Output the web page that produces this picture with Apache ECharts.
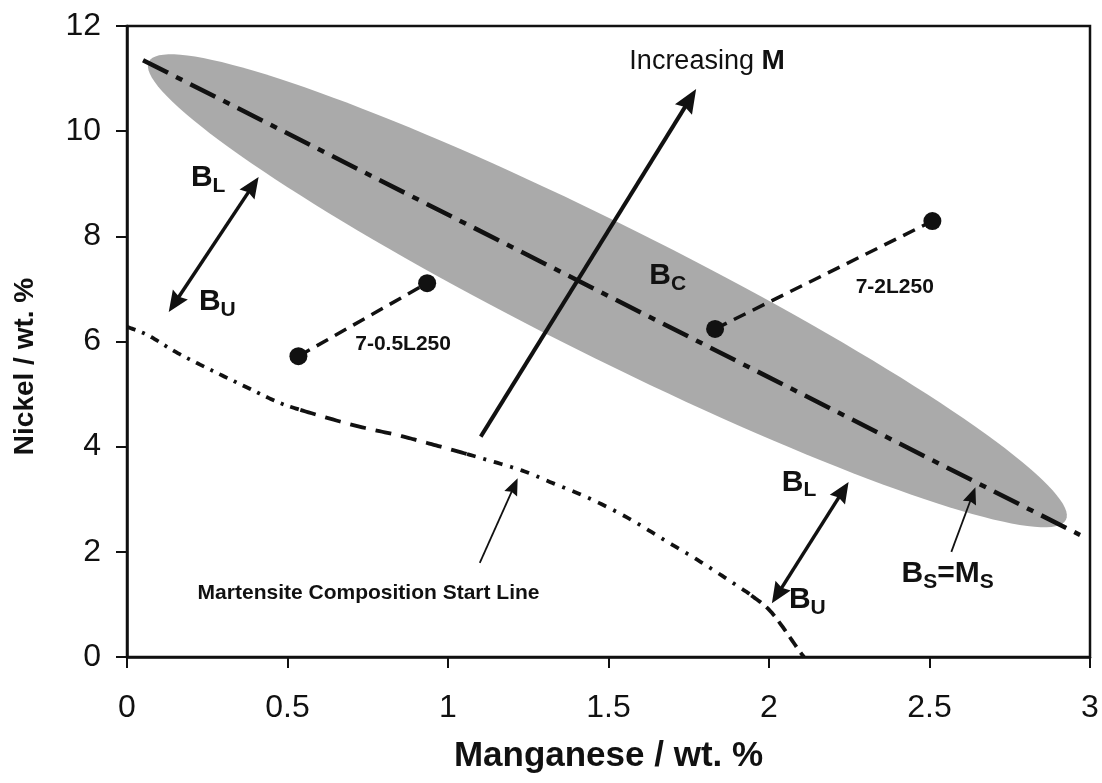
<!DOCTYPE html>
<html>
<head>
<meta charset="utf-8">
<script src="https://cdn.jsdelivr.net/npm/echarts@6/dist/echarts.min.js"></script>
<style>
html,body{margin:0;padding:0;background:#fff;}
#chart{width:1102px;height:783px;}
</style>
</head>
<body>
<div id="chart"></div>
<script>
// ---------- data ----------
const xTickLabels = ['0', '0.5', '1', '1.5', '2', '2.5', '3'];
const yTickLabels = ['0', '2', '4', '6', '8', '10', '12'];

// B_S = M_S line (dash-dot)
const bsMsLine = [[0.050, 11.35], [2.969, 2.32]];
// shaded band (ellipse) tips
const ellipseTips = [[0.068, 11.32], [2.925, 2.61]];

// Martensite composition start line
const msLine = [
  [0.0, 6.28], [0.065, 6.12], [0.158, 5.78], [0.261, 5.46], [0.376, 5.12], [0.469, 4.85], [0.540, 4.70],
  [0.705, 4.41], [0.842, 4.22], [0.935, 4.07], [1.059, 3.86],
  [1.224, 3.56], [1.317, 3.33], [1.432, 3.04], [1.556, 2.66], [1.689, 2.17], [1.792, 1.79], [1.907, 1.33], [1.945, 1.17],
  [2.009, 0.84], [2.093, 0.13], [2.109, 0.0]
];
// indices where the line pattern changes
const msBreaks = [0, 6, 10, 18, 21];

// alloys
const alloy05 = [[0.534, 5.72], [0.935, 7.11]];
const alloy2 = [[1.832, 6.24], [2.509, 8.29]];

// arrows [x1, y1, x2, y2]
const thickArrows = [[1.102, 4.19, 1.773, 10.80]];
const doubleArrows = [[0.130, 6.56, 0.410, 9.13], [2.009, 1.02, 2.248, 3.33]];
const thinArrows = [[2.568, 2.00, 2.643, 3.23], [1.099, 1.79, 1.217, 3.40]];

// annotations: anchor (data coords) + text parts
const annoX = [1.565, 0.199, 0.224, 1.627, 2.040, 2.062, 2.413, 0.711, 2.270, 0.220];
const annoY = [11.32, 9.11, 6.75, 7.25, 3.32, 1.08, 1.58, 5.95, 7.03, 1.22];
const annoParts = [
  [['Increasing ', 'n'], ['M', 'nb']],
  [['B', 'B'], ['L', 's']],
  [['B', 'B'], ['U', 's']],
  [['B', 'B'], ['C', 's']],
  [['B', 'B'], ['L', 's']],
  [['B', 'B'], ['U', 's']],
  [['B', 'B'], ['S', 's'], ['=M', 'B'], ['S', 's']],
  [['7-0.5L250', 'l']],
  [['7-2L250', 'l']],
  [['Martensite Composition Start Line', 'm']]
];

// ---------- styles ----------
const FF = '"Liberation Sans", Arial, Helvetica, sans-serif';
const INK = '#111111';
const partStyle = {
  n: {w: 'normal', s: 27, dy: 0},
  nb: {w: 'bold', s: 28, dy: 0},
  B: {w: 'bold', s: 30, dy: 0},
  s: {w: 'bold', s: 21, dy: 8},
  l: {w: 'bold', s: 21, dy: 0},
  m: {w: 'bold', s: 21, dy: 0}
};
const msDashes = [[9, 7, 3, 7], [16, 10], [9, 8, 3, 8], [12, 7]];
const ELLIPSE_HALF_WIDTH = 66;

const measureCtx = document.createElement('canvas').getContext('2d');
function textW(txt, w, s) {
  measureCtx.font = w + ' ' + s + 'px ' + FF;
  return measureCtx.measureText(txt).width;
}

function renderEllipse(params, api) {
  const a = api.coord(ellipseTips[0]);
  const b = api.coord(ellipseTips[1]);
  const cx = (a[0] + b[0]) / 2, cy = (a[1] + b[1]) / 2;
  const dx = b[0] - a[0], dy = b[1] - a[1];
  const L = Math.hypot(dx, dy) / 2;
  const ux = dx / (2 * L), uy = dy / (2 * L);
  const nx = uy, ny = -ux;
  const pts = [];
  for (let i = 0; i < 160; i++) {
    const t = i / 160 * 2 * Math.PI;
    const c = Math.cos(t) * L, s = Math.sin(t) * ELLIPSE_HALF_WIDTH;
    pts.push([cx + ux * c + nx * s, cy + uy * c + ny * s]);
  }
  return {type: 'polygon', shape: {points: pts}, style: {fill: '#aaaaaa'}};
}

// smooth (Catmull-Rom) curve through the line's points, drawn in stretches
function renderMs(params, api) {
  const P = msLine.map(p => api.coord(p));
  const n = P.length;
  function tang(i) {
    const a = P[Math.max(i - 1, 0)], b = P[Math.min(i + 1, n - 1)];
    const f = (i === 0 || i === n - 1) ? 1 / 3 : 1 / 6;
    return [(b[0] - a[0]) * f, (b[1] - a[1]) * f];
  }
  const children = [];
  for (let s = 0; s < msBreaks.length - 1; s++) {
    const pts = [];
    for (let i = msBreaks[s]; i < msBreaks[s + 1]; i++) {
      const p0 = P[i], p3 = P[i + 1];
      const t0 = tang(i), t1 = tang(i + 1);
      const c1 = [p0[0] + t0[0], p0[1] + t0[1]];
      const c2 = [p3[0] - t1[0], p3[1] - t1[1]];
      for (let k = 0; k <= 16; k++) {
        if (k === 0 && pts.length) continue;
        const t = k / 16, u = 1 - t;
        pts.push([
          u * u * u * p0[0] + 3 * u * u * t * c1[0] + 3 * u * t * t * c2[0] + t * t * t * p3[0],
          u * u * u * p0[1] + 3 * u * u * t * c1[1] + 3 * u * t * t * c2[1] + t * t * t * p3[1]
        ]);
      }
    }
    children.push({type: 'polyline', shape: {points: pts},
      style: {stroke: INK, lineWidth: 3.8, lineDash: msDashes[s], fill: null, lineCap: 'butt'}});
  }
  return {type: 'group', children: children};
}

function arrowHead(tip, from, len, hw) {
  const dx = tip[0] - from[0], dy = tip[1] - from[1];
  const d = Math.hypot(dx, dy);
  const ux = dx / d, uy = dy / d;
  const bx = tip[0] - ux * len, by = tip[1] - uy * len;
  return {
    poly: [[tip[0], tip[1]], [bx - uy * hw, by + ux * hw], [bx + ux * len * 0.12, by + uy * len * 0.12], [bx + uy * hw, by - ux * hw]],
    base: [bx + ux * len * 0.3, by + uy * len * 0.3]
  };
}

function makeArrowRenderer(list, both, lw, len, hw) {
  return function (params, api) {
    const r = list[params.dataIndex];
    const p1 = api.coord([r[0], r[1]]);
    const p2 = api.coord([r[2], r[3]]);
    const children = [];
    const h2 = arrowHead(p2, p1, len, hw);
    let s = p1;
    if (both) {
      const h1 = arrowHead(p1, p2, len, hw);
      s = h1.base;
      children.push({type: 'polygon', shape: {points: h1.poly}, style: {fill: INK}});
    }
    children.push({type: 'polygon', shape: {points: h2.poly}, style: {fill: INK}});
    children.push({type: 'line', shape: {x1: s[0], y1: s[1], x2: h2.base[0], y2: h2.base[1]}, style: {stroke: INK, lineWidth: lw}});
    return {type: 'group', children: children};
  };
}

function renderAnno(params, api) {
  const i = params.dataIndex;
  const p = api.coord([annoX[i], annoY[i]]);
  let x = p[0];
  const children = [];
  annoParts[i].forEach(function (part) {
    const st = partStyle[part[1]];
    children.push({
      type: 'text', x: x, y: p[1] + st.dy,
      style: {text: part[0], fontFamily: FF, fontWeight: st.w, fontSize: st.s, fill: INK, align: 'left', verticalAlign: 'middle'}
    });
    x += textW(part[0], st.w, st.s);
  });
  return {type: 'group', children: children};
}

function alloySeries(data) {
  return {
    type: 'line', data: data, symbol: 'circle', symbolSize: 18, showSymbol: true, z: 6, silent: true,
    itemStyle: {color: INK, borderWidth: 0},
    lineStyle: {color: INK, width: 3.5, type: [13, 8]}
  };
}

const chart = echarts.init(document.getElementById('chart'), null, {renderer: 'canvas'});
chart.setOption({
  animation: false,
  backgroundColor: '#ffffff',
  grid: {left: 127, right: 12, top: 26, bottom: 126, containLabel: false, outerBoundsMode: 'none',
    show: true, borderColor: INK, borderWidth: 2.5, backgroundColor: 'transparent'},
  xAxis: {
    type: 'value', min: 0, max: 3, interval: 0.5,
    axisLine: {show: true, onZero: false, lineStyle: {color: INK, width: 2.5}},
    axisTick: {show: true, inside: false, length: 11, lineStyle: {color: INK, width: 2}},
    axisLabel: {fontSize: 32, color: INK, fontFamily: FF, margin: 35,
      formatter: function (v) { return xTickLabels[Math.round(v / 0.5)]; }},
    splitLine: {show: false},
    name: 'Manganese / wt. %', nameLocation: 'middle', nameGap: 82,
    nameTextStyle: {fontSize: 35, fontWeight: 'bold', color: INK, fontFamily: FF}
  },
  yAxis: {
    type: 'value', min: 0, max: 12, interval: 2,
    axisLine: {show: true, onZero: false, lineStyle: {color: INK, width: 2.5}},
    axisTick: {show: true, inside: false, length: 11, lineStyle: {color: INK, width: 2}},
    axisLabel: {fontSize: 32, color: INK, fontFamily: FF, margin: 26,
      formatter: function (v) { return yTickLabels[Math.round(v / 2)]; }},
    splitLine: {show: false},
    name: 'Nickel / wt. %', nameLocation: 'middle', nameGap: 88, nameRotate: 90,
    nameTextStyle: {fontSize: 28, fontWeight: 'bold', color: INK, fontFamily: FF, padding: [0, 50, 0, 0]}
  },
  series: [
    {type: 'custom', renderItem: renderEllipse, data: [ellipseTips[0]], z: 1, silent: true},
    {type: 'line', data: bsMsLine, showSymbol: false, symbol: 'none', z: 3, silent: true,
      lineStyle: {color: INK, width: 4.5, type: [28, 9, 7, 9]}},
    {type: 'custom', renderItem: renderMs, data: [msLine[0]], z: 4, silent: true},
    alloySeries(alloy05),
    alloySeries(alloy2),
    {type: 'custom', renderItem: makeArrowRenderer(thickArrows, false, 4, 24, 10), data: thickArrows.map(r => [r[0], r[1]]), z: 7, silent: true},
    {type: 'custom', renderItem: makeArrowRenderer(doubleArrows, true, 3.5, 21, 9), data: doubleArrows.map(r => [r[0], r[1]]), z: 7, silent: true},
    {type: 'custom', renderItem: makeArrowRenderer(thinArrows, false, 1.8, 17, 7), data: thinArrows.map(r => [r[0], r[1]]), z: 7, silent: true},
    {type: 'custom', renderItem: renderAnno, data: annoX.map((x, i) => [x, annoY[i]]), z: 8, silent: true, clip: false}
  ]
});
</script>
</body>
</html>
